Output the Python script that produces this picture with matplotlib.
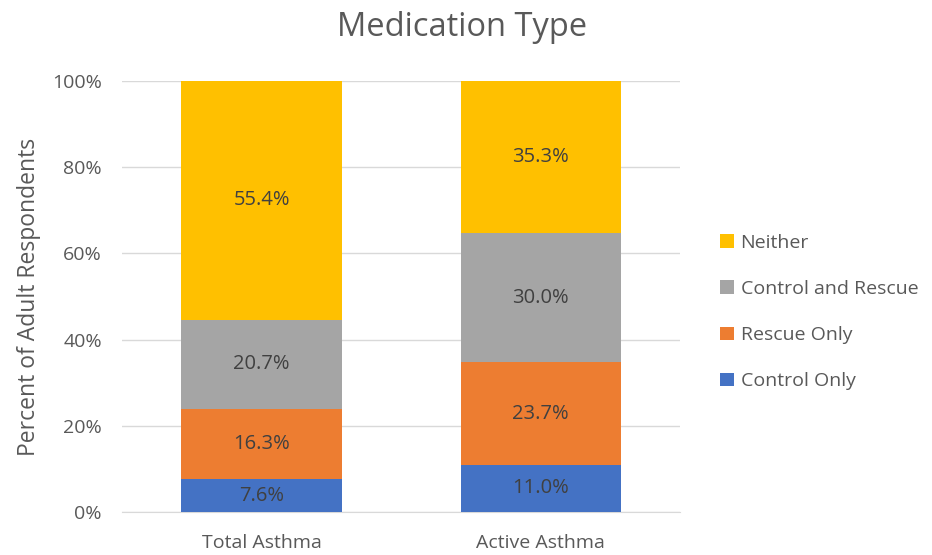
import numpy as np
import matplotlib.pyplot as plt
from matplotlib.ticker import PercentFormatter

groups = ["Total Asthma", "Active Asthma"]
series = ["Control Only", "Rescue Only", "Control and Rescue", "Neither"]
control_only = [7.6, 11.0]
rescue_only = [16.3, 23.7]
control_and_rescue = [20.7, 30.0]
neither = [55.4, 35.3]
colors = ["#4472C4", "#ED7D31", "#A5A5A5", "#FFC000"]

plt.rcParams['font.family'] = ['Open Sans', 'DejaVu Sans']
text_color = '#595959'

fig = plt.figure(figsize=(9.32, 5.55), dpi=100)
ax = fig.add_axes([0.131, 0.0775, 0.599, 0.7765])

x = np.arange(len(groups))
bottom = np.zeros(len(groups))
handles = []
for name, vals, col in zip(series, [control_only, rescue_only, control_and_rescue, neither], colors):
    vals = np.array(vals)
    bars = ax.bar(x, vals, width=0.575, bottom=bottom, color=col, label=name, zorder=3)
    handles.append(bars)
    for xi, b, v in zip(x, bottom, vals):
        ax.text(xi, b + v / 2, '{:.1f}%'.format(v), ha='center', va='center',
                fontsize=14.5, color='#404040', zorder=4)
    bottom += vals

ax.set_xlim(-0.5, 1.5)
ax.set_ylim(0, 100)
ax.set_yticks(np.arange(0, 101, 20))
ax.yaxis.set_major_formatter(PercentFormatter(decimals=0))
ax.set_xticks(x)
ax.set_xticklabels(groups)

for s in ['top', 'right', 'left']:
    ax.spines[s].set_visible(False)
ax.spines['bottom'].set_color('#D9D9D9')
ax.tick_params(left=False, bottom=False, labelsize=14, colors=text_color)
ax.tick_params(axis='x', pad=12)
ax.tick_params(axis='y', pad=11)
ax.yaxis.grid(True, color='#D9D9D9', linewidth=1, zorder=0)
ax.set_axisbelow(True)

ax.set_ylabel('Percent of Adult Respondents', fontsize=16.5, color=text_color, labelpad=8)
fig.text(0.496, 0.95, 'Medication Type', ha='center', va='center', fontsize=23.5, color=text_color)

leg = ax.legend(handles[::-1], series[::-1], loc='center left', bbox_to_anchor=(1.04, 0.464),
                frameon=False, fontsize=14, handlelength=0.7, handleheight=0.7,
                handletextpad=0.35, labelspacing=1.45)
for t in leg.get_texts():
    t.set_color(text_color)

fig.savefig('out.png', dpi=100)
